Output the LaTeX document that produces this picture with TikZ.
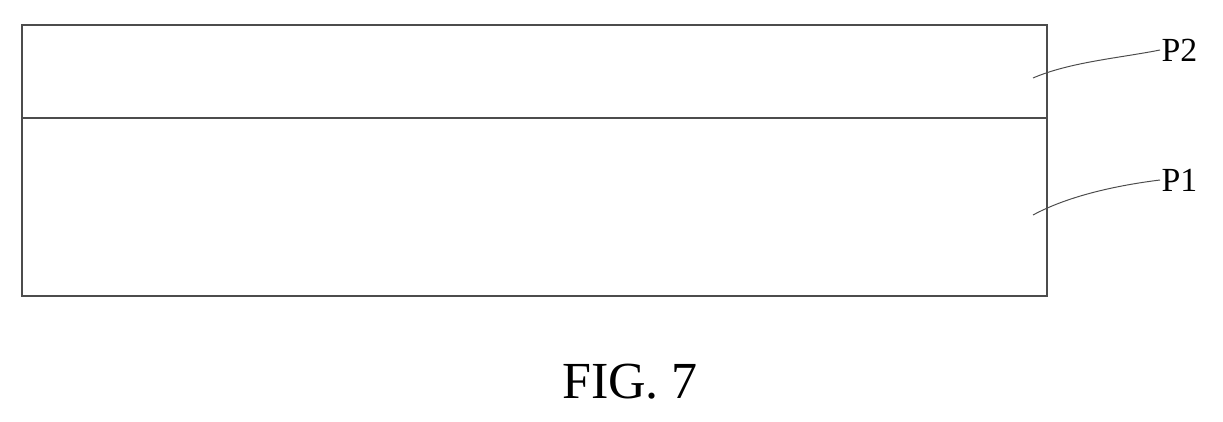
\documentclass[tikz,border=0pt]{standalone}
\usepackage{fontspec}
\setmainfont{Liberation Serif}
\begin{document}
\begin{tikzpicture}[x=0.025cm,y=-0.025cm,
	layer/.style={draw=black!70,line width=0.8pt},
	leader/.style={draw=black!70,line width=0.7pt},
	tag/.style={font=\fontsize{24}{24}\selectfont,inner sep=1pt}]
	\useasboundingbox (0,0) rectangle (1223,421);

	\draw[layer] (22,25) rectangle (1047,296);
	\draw[layer] (22,118) -- (1047,118);

	\coordinate (p2end) at (1033,78);
	\coordinate (p1end) at (1033,215);
	\node[tag,anchor=west] (P2) at (1160,50) {P2};
	\node[tag,anchor=west] (P1) at (1160,180) {P1};

	\draw[leader] (p2end) .. controls (1070,62) and (1120,58) .. (P2.west);
	\draw[leader] (p1end) .. controls (1070,195) and (1120,185) .. (P1.west);

	\node[font=\fontsize{37}{37}\selectfont] (fig) at (630,382) {FIG. 7};
\end{tikzpicture}
\end{document}
